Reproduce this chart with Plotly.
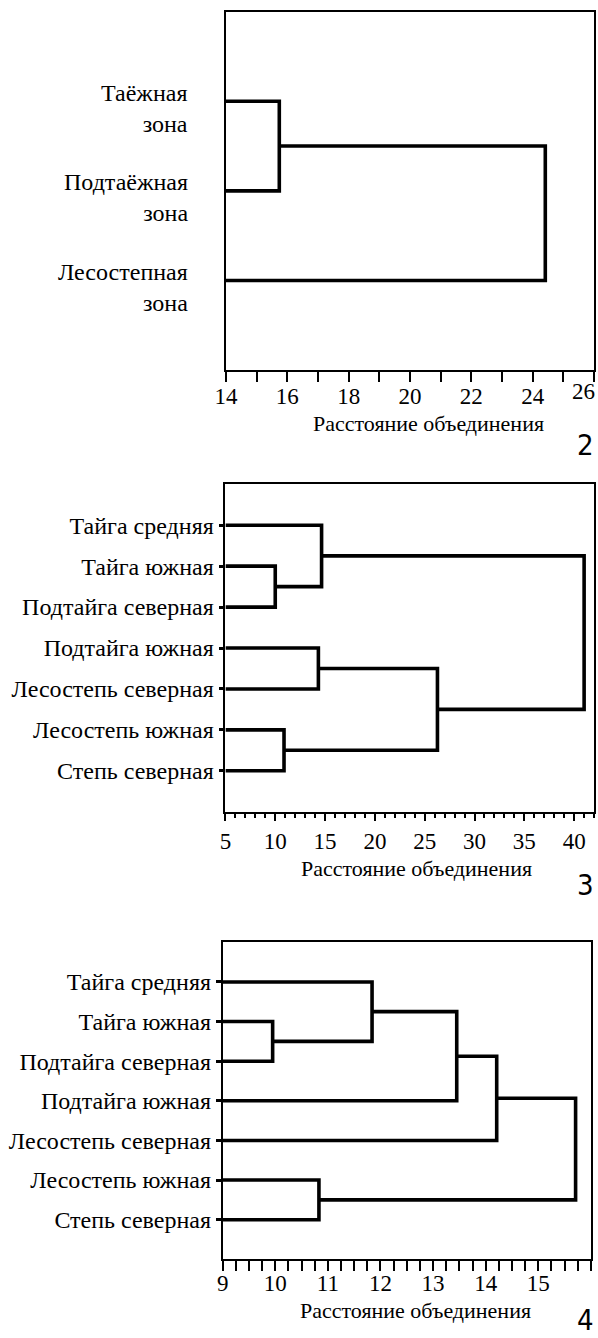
import plotly.graph_objects as go

W, H = 598, 1338

# ---------- data ----------
# Panel 2
p2_leaves = ["Таёжная<br>зона", "Подтаёжная<br>зона", "Лесостепная<br>зона"]
p2_merge_left = [0, 3]
p2_merge_right = [1, 2]
p2_merge_height = [15.74, 24.41]
p2_xrange = [14, 26]
p2_tickvals = [14, 16, 18, 20, 22, 24, 26]
p2_ticktext = ["14", "16", "18", "20", "22", "24", ""]
p2_edge_label = "26"

# Panel 3
p3_leaves = ["Тайга средняя", "Тайга южная", "Подтайга северная", "Подтайга южная",
             "Лесостепь северная", "Лесостепь южная", "Степь северная"]
p3_merge_left = [1, 0, 3, 5, 9, 8]
p3_merge_right = [2, 7, 4, 6, 10, 11]
p3_merge_height = [10.0, 14.65, 14.33, 10.88, 26.28, 41.0]
p3_xrange = [5, 42]
p3_tickvals = [5, 10, 15, 20, 25, 30, 35, 40]
p3_ticktext = ["5", "10", "15", "20", "25", "30", "35", "40"]

# Panel 4
p4_leaves = ["Тайга средняя", "Тайга южная", "Подтайга северная", "Подтайга южная",
             "Лесостепь северная", "Лесостепь южная", "Степь северная"]
p4_merge_left = [1, 0, 8, 9, 5, 10]
p4_merge_right = [2, 7, 3, 4, 6, 11]
p4_merge_height = [9.95, 11.84, 13.45, 14.21, 10.83, 15.71]
p4_xrange = [9, 16]
p4_tickvals = [9, 10, 11, 12, 13, 14, 15]
p4_ticktext = ["9", "10", "11", "12", "13", "14", "15"]

axis_title = "Расстояние объединения"
panel_numbers = ["2", "3", "4"]

SERIF = "Liberation Serif, Times New Roman, serif"
NARROW = "Liberation Sans Narrow, Arial Narrow, DejaVu Sans Condensed, sans-serif"


def dendro_segments(n, lefts, rights, heights, base):
    pos = {i: float(i + 1) for i in range(n)}
    hgt = {i: base for i in range(n)}
    xs, ys = [], []
    for k, (a, b, h) in enumerate(zip(lefts, rights, heights)):
        xs += [hgt[a], h, h, hgt[b], None]
        ys += [pos[a], pos[a], pos[b], pos[b], None]
        pos[n + k] = (pos[a] + pos[b]) / 2
        hgt[n + k] = h
    return xs, ys


def px_dom_x(l, r):
    return [l / W, r / W]


def px_dom_y(t, b):
    return [1 - b / H, 1 - t / H]


fig = go.Figure()

panels = [
    dict(leaves=p2_leaves, L=p2_merge_left, R=p2_merge_right, Hh=p2_merge_height,
         xr=p2_xrange, tv=p2_tickvals, tt=p2_ticktext, dom_x=(218.3, 594), dom_y=(11.7, 370),
         minor=1, ticklen=10, minorlen=10, standoff=-6,
         num_y=445, title_x=425, title_y=424, ytick=False),
    dict(leaves=p3_leaves, L=p3_merge_left, R=p3_merge_right, Hh=p3_merge_height,
         xr=p3_xrange, tv=p3_tickvals, tt=p3_ticktext, dom_x=(217.8, 594), dom_y=(484.3, 811.7),
         minor=1, ticklen=7, minorlen=4, standoff=1,
         num_y=885, title_x=412.5, title_y=868, ytick=True),
    dict(leaves=p4_leaves, L=p4_merge_left, R=p4_merge_right, Hh=p4_merge_height,
         xr=p4_xrange, tv=p4_tickvals, tt=p4_ticktext, dom_x=(215, 590.7), dom_y=(942.3, 1259.3),
         minor=0.25, ticklen=10, minorlen=10, standoff=-8,
         num_y=1320, title_x=412, title_y=1310, ytick=True),
]

layout = dict(
    width=W, height=H, margin=dict(l=0, r=0, t=0, b=0),
    paper_bgcolor="white", plot_bgcolor="white", showlegend=False,
    font=dict(family=SERIF, size=22, color="black"),
)
annotations = []

for i, p in enumerate(panels, start=1):
    n = len(p["leaves"])
    xs, ys = dendro_segments(n, p["L"], p["R"], p["Hh"], p["xr"][0])
    xa = "x" if i == 1 else f"x{i}"
    ya = "y" if i == 1 else f"y{i}"
    fig.add_trace(go.Scatter(x=xs, y=ys, mode="lines", xaxis=xa, yaxis=ya,
                             line=dict(color="black", width=3.6), cliponaxis=False,
                             hoverinfo="skip"))
    xkey = "xaxis" if i == 1 else f"xaxis{i}"
    ykey = "yaxis" if i == 1 else f"yaxis{i}"
    layout[xkey] = dict(
        domain=px_dom_x(*p["dom_x"]), range=p["xr"], anchor=ya,
        showline=True, mirror=True, linecolor="black", linewidth=1.8,
        showgrid=False, zeroline=False,
        tickmode="array", tickvals=p["tv"], ticktext=p["tt"],
        ticks="outside", ticklen=p["ticklen"], ticklabelstandoff=p["standoff"],
        tickwidth=1.5, tickcolor="black",
        tickfont=dict(family=SERIF, size=23, color="black"),
        minor=dict(dtick=p["minor"], tick0=p["xr"][0], ticks="outside",
                   ticklen=p["minorlen"], tickwidth=1.5, tickcolor="black",
                   showgrid=False),
    )
    ydict = dict(
        domain=px_dom_y(*p["dom_y"]), range=[n + 1, 0], anchor=xa,
        showline=True, mirror=True, linecolor="black", linewidth=1.8,
        showgrid=False, zeroline=False,
    )
    if p["ytick"]:
        ydict.update(tickmode="array", tickvals=list(range(1, n + 1)),
                     ticktext=p["leaves"], ticks="outside", ticklen=5,
                     tickwidth=2.5, tickcolor="black",
                     tickfont=dict(family=SERIF, size=24, color="black"))
    else:
        ydict.update(showticklabels=False, ticks="")
        for j, lab in enumerate(p["leaves"]):
            annotations.append(dict(
                text=lab, xref="paper", x=182 / W, xanchor="right",
                yref=ya, y=j + 1, yanchor="middle", yshift=-7,
                align="right", showarrow=False,
                font=dict(family=SERIF, size=24, color="black")))
    layout[ykey] = ydict
    annotations.append(dict(
        text=axis_title, xref="paper", yref="paper",
        x=p["title_x"] / W, y=1 - p["title_y"] / H, xanchor="center", yanchor="middle",
        showarrow=False, font=dict(family=SERIF, size=22, color="black")))
    annotations.append(dict(
        text=panel_numbers[i - 1], xref="paper", yref="paper",
        x=596 / W, y=1 - p["num_y"] / H, xanchor="right", yanchor="middle",
        showarrow=False, font=dict(family=NARROW, size=29, color="black")))

# edge tick label of panel 2 (right-aligned at the axis end, as in the reference)
annotations.append(dict(
    text=p2_edge_label, xref="x", x=p2_xrange[1], xanchor="right", xshift=3,
    yref="paper", y=1 - 391 / H, yanchor="middle", showarrow=False,
    font=dict(family=SERIF, size=23, color="black")))

layout["annotations"] = annotations
fig.update_layout(**layout)
fig.write_html("out.html")
